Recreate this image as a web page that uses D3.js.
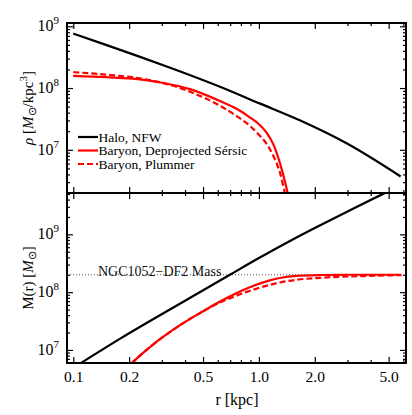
<!DOCTYPE html>
<html><head><meta charset="utf-8">
<script src="https://cdn.jsdelivr.net/npm/d3@7"></script>
<style>
html,body{margin:0;padding:0;background:#fff;}
svg{display:block;}
svg text{font-family:'Liberation Serif','Times New Roman',Times,serif;}
</style></head>
<body><svg id="c" width="412" height="415" font-family="Liberation Serif, Times New Roman, serif"></svg>
<script>
// ---- data ----
const xMajorTicks = [0.1, 0.2, 0.5, 1.0, 2.0, 5.0];
const xMajorLabels = ["0.1", "0.2", "0.5", "1.0", "2.0", "5.0"];
const xMinorTicks = [0.3, 0.4, 0.6, 0.7, 0.8, 0.9, 3, 4, 6];

// top panel: density  [M_sun / kpc^3]
const haloRhoR = [0.1, 0.15, 0.229, 0.35, 0.617, 1.0, 1.66, 3.0, 5.8];
const haloRho  = [7.6e8, 5.0e8, 3.2e8, 2.02e8, 1.05e8, 5.7e7, 3.0e7, 1.25e7, 3.7e6];
const sersicRhoR = [0.1, 0.15, 0.229, 0.3, 0.426, 0.6, 0.75, 0.9, 1.0, 1.1, 1.2, 1.3, 1.4, 1.5];
const sersicRho  = [1.58e8, 1.5e8, 1.38e8, 1.22e8, 9.6e7, 6.4e7, 4.7e7, 3.3e7, 2.6e7, 1.9e7, 1.2e7, 6.0e6, 2.6e6, 1.0e6];
const plummerRhoR = [0.1, 0.15, 0.229, 0.3, 0.426, 0.6, 0.75, 0.9, 1.0, 1.1, 1.2, 1.3, 1.38, 1.5];
const plummerRho  = [1.81e8, 1.65e8, 1.43e8, 1.22e8, 8.7e7, 5.4e7, 3.6e7, 2.4e7, 1.75e7, 1.25e7, 7.8e6, 4.2e6, 2.0e6, 6e5];

// bottom panel: enclosed mass  [M_sun]
const haloMR = [0.1, 0.179, 0.4, 0.698, 1.0, 1.47, 2.0, 3.0, 4.75, 6.0];
const haloM  = [4.9e6, 1.57e7, 7.1e7, 2.0e8, 3.89e8, 7.7e8, 1.29e9, 2.49e9, 5.17e9, 7.4e9];
const sersicMR = [0.19, 0.207, 0.27, 0.376, 0.5, 0.617, 0.75, 0.86, 0.93, 1.146, 1.297, 1.6, 2.13, 3.0, 5.85];
const sersicM  = [4.5e6, 5.94e6, 1.25e7, 2.68e7, 4.67e7, 6.9e7, 9.5e7, 1.16e8, 1.28e8, 1.6e8, 1.76e8, 1.92e8, 1.98e8, 2.0e8, 2.0e8];
const plummerMR = [0.19, 0.207, 0.27, 0.376, 0.5, 0.617, 0.75, 0.86, 0.93, 1.146, 1.297, 1.6, 2.13, 3.64, 5.85];
const plummerM  = [4.5e6, 5.94e6, 1.25e7, 2.68e7, 4.67e7, 6.6e7, 8.6e7, 1.01e8, 1.10e8, 1.34e8, 1.47e8, 1.64e8, 1.77e8, 1.90e8, 1.97e8];

const df2Mass = 2e8;
const df2Range = [0.0925, 5.85];
const df2Label = "NGC1052\u2212DF2 Mass";
const legendLabels = ["Halo, NFW", "Baryon, Deprojected Sérsic", "Baryon, Plummer"];

// ---- layout ----
const FONT = "Liberation Serif, Times New Roman, serif";
const svg = d3.select("#c");
const L = 67, R = 406, T = 23, MID = 193, B = 363;
const x = d3.scaleLog().domain([0.0925, 6.2]).range([L, R]);
const yT = d3.scaleLog().domain([2.0e6, 1.13e9]).range([MID, T]);
const yB = d3.scaleLog().domain([5.94e6, 5.2e9]).range([B, MID]);

const defs = svg.append("defs");
defs.append("clipPath").attr("id","clipT").append("rect").attr("x",L).attr("y",T).attr("width",R-L).attr("height",MID-T);
defs.append("clipPath").attr("id","clipB").append("rect").attr("x",L).attr("y",MID).attr("width",R-L).attr("height",B-MID);

const RED = "#ff0000";
function drawLine(g, rs, vs, ys, color, dash) {
  const pts = rs.map((r,i)=>[r, vs[i]]);
  g.append("path").datum(pts)
    .attr("fill","none").attr("stroke",color).attr("stroke-width",2.2)
    .attr("stroke-dasharray", dash || null)
    .attr("d", d3.line().x(d=>x(d[0])).y(d=>ys(d[1])).curve(d3.curveMonotoneX));
}

// top panel curves
const gT = svg.append("g").attr("clip-path","url(#clipT)");
drawLine(gT, haloRhoR, haloRho, yT, "#000");
drawLine(gT, sersicRhoR, sersicRho, yT, RED);
drawLine(gT, plummerRhoR, plummerRho, yT, RED, "6,3");

// bottom panel
const gB = svg.append("g").attr("clip-path","url(#clipB)");
gB.append("line").attr("x1",x(df2Range[0])).attr("x2",x(df2Range[1]))
  .attr("y1",yB(df2Mass)).attr("y2",yB(df2Mass))
  .attr("stroke","#444").attr("stroke-width",0.9).attr("stroke-dasharray","1,2");
drawLine(gB, haloMR, haloM, yB, "#000");
drawLine(gB, sersicMR, sersicM, yB, RED);
drawLine(gB, plummerMR, plummerM, yB, RED, "6,3");

svg.append("text").attr("x",98).attr("y",yB(df2Mass)+1).attr("font-size",14)
  .attr("font-family",FONT).attr("fill","#111").text(df2Label);

// ---- axes ----
function yMinorValues(scale){
  const [a,b]=scale.domain(); const out=[];
  for(let e=Math.floor(Math.log10(a)); e<=Math.ceil(Math.log10(b)); e++)
    for(let k=2;k<=9;k++){const v=k*Math.pow(10,e); if(v>=a&&v<=b) out.push(v);}
  return out;
}
function yMajorValues(scale){
  const [a,b]=scale.domain(); const out=[];
  for(let e=Math.floor(Math.log10(a)); e<=Math.ceil(Math.log10(b)); e++){const v=Math.pow(10,e); if(v>=a&&v<=b) out.push(v);}
  return out;
}
function styleAxis(g){
  g.select(".domain").remove();
  g.selectAll(".tick line").attr("stroke","#000").attr("stroke-width",1.2);
}
function panelAxes(ys, top, bottom, showX){
  const maj = yMajorValues(ys), mn = yMinorValues(ys);
  styleAxis(svg.append("g").attr("transform",`translate(${L},0)`).call(d3.axisLeft(ys).tickValues(maj).tickSize(-6).tickFormat("")));
  styleAxis(svg.append("g").attr("transform",`translate(${L},0)`).call(d3.axisLeft(ys).tickValues(mn).tickSize(-3).tickFormat("")));
  styleAxis(svg.append("g").attr("transform",`translate(${R},0)`).call(d3.axisRight(ys).tickValues(maj).tickSize(-6).tickFormat("")));
  styleAxis(svg.append("g").attr("transform",`translate(${R},0)`).call(d3.axisRight(ys).tickValues(mn).tickSize(-3).tickFormat("")));
  const lab = svg.append("g");
  maj.forEach(v=>{
    const e = Math.round(Math.log10(v));
    const t = lab.append("text").attr("x",L-8).attr("y",ys(v)+5).attr("text-anchor","end")
      .attr("font-size",16).attr("font-family",FONT);
    t.append("tspan").text("10");
    t.append("tspan").attr("dy",-7).attr("font-size",11).text(String(e));
  });
  styleAxis(svg.append("g").attr("transform",`translate(0,${top})`).call(d3.axisBottom(x).tickValues(xMajorTicks).tickSize(6).tickFormat("")));
  styleAxis(svg.append("g").attr("transform",`translate(0,${top})`).call(d3.axisBottom(x).tickValues(xMinorTicks).tickSize(3).tickFormat("")));
  styleAxis(svg.append("g").attr("transform",`translate(0,${bottom})`).call(d3.axisTop(x).tickValues(xMajorTicks).tickSize(6).tickFormat("")));
  styleAxis(svg.append("g").attr("transform",`translate(0,${bottom})`).call(d3.axisTop(x).tickValues(xMinorTicks).tickSize(3).tickFormat("")));
  if(showX){
    const gx = svg.append("g").attr("transform",`translate(0,${bottom})`)
      .call(d3.axisBottom(x).tickValues(xMajorTicks).tickSize(0).tickPadding(8)
        .tickFormat((d,i)=>xMajorLabels[i]));
    gx.attr("font-family",FONT);
    gx.select(".domain").remove();
    gx.selectAll("text").attr("font-size",15.5).attr("font-family",FONT).attr("fill","#000");
  }
}
panelAxes(yT, T, MID, false);
panelAxes(yB, MID, B, true);

// frames
svg.append("rect").attr("x",L).attr("y",T).attr("width",R-L).attr("height",MID-T)
  .attr("fill","none").attr("stroke","#000").attr("stroke-width",2);
svg.append("rect").attr("x",L).attr("y",MID).attr("width",R-L).attr("height",B-MID)
  .attr("fill","none").attr("stroke","#000").attr("stroke-width",2);

// axis titles
svg.append("text").attr("x",237).attr("y",405).attr("text-anchor","middle").attr("font-size",16)
  .attr("font-family",FONT).text("r [kpc]");

const tY = svg.append("text").attr("text-anchor","middle").attr("font-size",15).attr("font-family",FONT)
  .attr("transform",`translate(33,${(T+MID)/2}) rotate(-90)`);
tY.append("tspan").attr("font-style","italic").text("ρ");
tY.append("tspan").text(" [");
tY.append("tspan").attr("font-style","italic").text("M");
tY.append("tspan").attr("dy",3).attr("font-size",11).text("⊙");
tY.append("tspan").attr("dy",-3).text("/kpc");
tY.append("tspan").attr("dy",-6).attr("font-size",11).text("3");
tY.append("tspan").attr("dy",6).text("]");

const bY = svg.append("text").attr("text-anchor","middle").attr("font-size",15).attr("font-family",FONT)
  .attr("transform",`translate(33,${(MID+B)/2}) rotate(-90)`);
bY.append("tspan").text("M(r) [");
bY.append("tspan").attr("font-style","italic").text("M");
bY.append("tspan").attr("dy",3).attr("font-size",11).text("⊙");
bY.append("tspan").attr("dy",-3).text("]");

// legend
const lg = svg.append("g");
const legStyles = [["#000",null],[RED,null],[RED,"6,3"]];
legendLabels.forEach((name,i)=>{
  const yy = 137 + i*13.5;
  lg.append("line").attr("x1",78).attr("x2",98).attr("y1",yy).attr("y2",yy)
    .attr("stroke",legStyles[i][0]).attr("stroke-width",2.2).attr("stroke-dasharray",legStyles[i][1]);
  lg.append("text").attr("x",98.5).attr("y",yy+4.5).attr("font-size",13.5).attr("font-family",FONT).text(name);
});
</script></body></html>
